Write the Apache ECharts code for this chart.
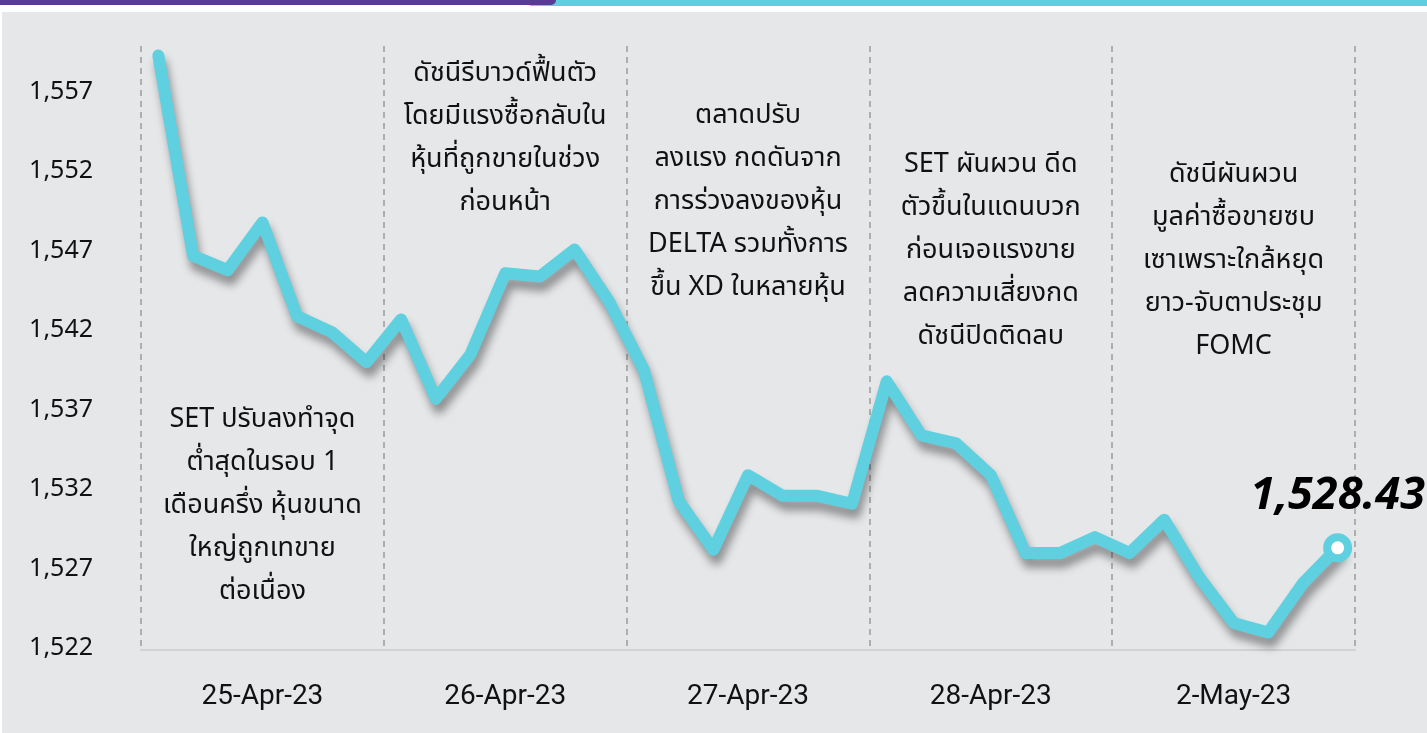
<!DOCTYPE html>
<html lang="th">
<head>
<meta charset="utf-8">
<title>SET Index</title>
<script src="https://cdn.jsdelivr.net/npm/echarts@6/dist/echarts.min.js"></script>
<style>
    html, body { margin: 0; padding: 0; background: #e6e7e9; }
    #main { width: 1427px; height: 733px; }
</style>
</head>
<body>
<div id="main"></div>
<script type="text/javascript">
    // ข้อมูลดัชนี SET รายช่วง (7 จุดต่อวัน)
    var days = ['25-Apr-23', '26-Apr-23', '27-Apr-23', '28-Apr-23', '2-May-23'];
    var pointsPerDay = 7;
    var setIndex = [
        1559.4, 1546.8, 1545.9, 1548.9, 1543.0, 1542.0, 1540.1,
        1542.8, 1537.8, 1540.6, 1545.7, 1545.5, 1547.2, 1543.9,
        1539.6, 1531.4, 1528.3, 1533.0, 1531.7, 1531.7, 1531.2,
        1538.9, 1535.5, 1535.0, 1533.0, 1528.1, 1528.1, 1529.1,
        1528.1, 1530.2, 1526.6, 1523.7, 1523.1, 1526.2, 1528.43
    ];
    var yTicks = [1522, 1527, 1532, 1537, 1542, 1547, 1552, 1557];
    var lastLabel = '1,528.43';
    var notes = [
        ['SET ปรับลงทำจุด', 'ต่ำสุดในรอบ 1', 'เดือนครึ่ง หุ้นขนาด', 'ใหญ่ถูกเทขาย', 'ต่อเนื่อง'],
        ['ดัชนีรีบาวด์ฟื้นตัว', 'โดยมีแรงซื้อกลับใน', 'หุ้นที่ถูกขายในช่วง', 'ก่อนหน้า'],
        ['ตลาดปรับ', 'ลงแรง กดดันจาก', 'การร่วงลงของหุ้น', 'DELTA รวมทั้งการ', 'ขึ้น XD ในหลายหุ้น'],
        ['SET ผันผวน ดีด', 'ตัวขึ้นในแดนบวก', 'ก่อนเจอแรงขาย', 'ลดความเสี่ยงกด', 'ดัชนีปิดติดลบ'],
        ['ดัชนีผันผวน', 'มูลค่าซื้อขายซบ', 'เซาเพราะใกล้หยุด', 'ยาว-จับตาประชุม', 'FOMC']
    ];
    // ตำแหน่งบนสุดของกล่องข้อความ (px)
    var noteTop = [400, 54, 96, 145, 155];

    var categories = [];
    days.forEach(function (d) {
        for (var k = 1; k <= pointsPerDay; k++) categories.push(d + ' #' + k);
    });
    var lastIdx = setIndex.length - 1;
    var lastPoint = setIndex.map(function (v, i) { return i === lastIdx ? v : '-'; });

    var cyan = '#5ed0df';
    var font = '"Noto Sans Thai", "Noto Sans", "DejaVu Sans", sans-serif';

    var myChart = echarts.init(document.getElementById('main'));

    var option = {
        backgroundColor: '#e6e7e9',
        animation: false,
        grid: { left: 141, right: 72, top: 46, bottom: 83 },
        xAxis: [
            {
                type: 'category',
                data: categories,
                boundaryGap: true,
                show: false
            },
            {
                type: 'category',
                data: days,
                position: 'bottom',
                boundaryGap: true,
                axisLine: { lineStyle: { color: '#d2d2d2', width: 2 } },
                axisTick: { show: false },
                axisLabel: {
                    color: '#111', fontSize: 28, margin: 33,
                    fontFamily: '"Liberation Sans Narrow", "Roboto", sans-serif'
                },
                splitLine: {
                    show: true,
                    lineStyle: { color: '#9c9c9c', width: 1.5, type: [6, 5] }
                }
            }
        ],
        yAxis: {
            type: 'value',
            min: 1522,
            max: 1560,
            interval: 5,
            axisLine: { show: false },
            axisTick: { show: false },
            splitLine: { show: false },
            axisLabel: {
                margin: 48, color: '#111', fontSize: 25, fontFamily: font,
                showMaxLabel: false,
                formatter: function (v) {
                    return yTicks.indexOf(v) >= 0 ? v.toLocaleString('en-US') : '';
                }
            }
        },
        series: [
            {
                name: 'SET',
                type: 'line',
                data: setIndex,
                showSymbol: false,
                lineStyle: {
                    color: cyan, width: 12, cap: 'round', join: 'round',
                    shadowColor: 'rgba(0,0,0,0.38)', shadowBlur: 8,
                    shadowOffsetX: 3, shadowOffsetY: 9
                },
                z: 3
            },
            {
                name: 'close',
                type: 'scatter',
                data: lastPoint,
                symbol: 'circle',
                symbolSize: 21,
                itemStyle: { color: '#ffffff', borderColor: cyan, borderWidth: 8, opacity: 1 },
                label: {
                    show: true, position: 'top', distance: 15,
                    formatter: lastLabel,
                    color: '#000', fontSize: 45, fontWeight: 'bold', fontStyle: 'italic',
                    fontFamily: '"Noto Sans", sans-serif'
                },
                z: 4
            }
        ],
        graphic: [
            { type: 'rect', shape: { x: 0, y: 0, width: 1427, height: 12 }, style: { fill: '#ffffff' }, silent: true },
            { type: 'rect', shape: { x: 0, y: 0, width: 2, height: 733 }, style: { fill: '#ffffff' }, silent: true },
            { type: 'rect', shape: { x: 530, y: 0, width: 897, height: 6 }, style: { fill: '#5ecfdf' }, silent: true },
            { type: 'rect', shape: { x: 0, y: 0, width: 556, height: 5, r: [0, 0, 6, 0] }, style: { fill: '#583b94' }, silent: true }
        ]
    };
    myChart.setOption(option);

    // วางข้อความอธิบายตรงกลางคอลัมน์ของแต่ละวัน
    var noteGraphics = notes.map(function (lines, i) {
        var cx = myChart.convertToPixel({ xAxisIndex: 1 }, days[i]);
        return {
            type: 'text',
            x: cx,
            y: noteTop[i],
            silent: true,
            style: {
                text: lines.join('\n'),
                textAlign: 'center',
                textVerticalAlign: 'top',
                fontSize: 27,
                fontFamily: font,
                lineHeight: 43,
                fill: '#111'
            }
        };
    });
    myChart.setOption({ graphic: option.graphic.concat(noteGraphics) });
</script>
</body>
</html>
